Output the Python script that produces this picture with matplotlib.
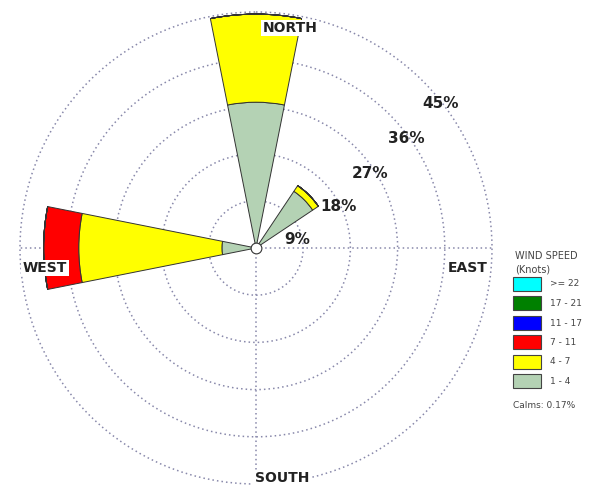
import numpy as np
import matplotlib.pyplot as plt
from matplotlib.patches import Rectangle

# wind rose data: percent of time per direction and speed bin
directions = ['N', 'NNE', 'NE', 'ENE', 'E', 'ESE', 'SE', 'SSE',
              'S', 'SSW', 'SW', 'WSW', 'W', 'WNW', 'NW', 'NNW']
dir_deg = np.arange(16) * 22.5

speed_bins = ['1 - 4', '4 - 7', '7 - 11', '11 - 17', '17 - 21', '>= 22']
bin_colors = ['#b4d2b4', '#ffff00', '#ff0000', '#0000ff', '#008000', '#00ffff']

spd_1_4 = [27.8, 0, 13.0, 0, 0, 0, 0, 0, 0, 0, 0, 0, 6.5, 0, 0, 0]
spd_4_7 = [16.8, 0, 1.3, 0, 0, 0, 0, 0, 0, 0, 0, 0, 27.3, 0, 0, 0]
spd_7_11 = [0, 0, 0, 0, 0, 0, 0, 0, 0, 0, 0, 0, 6.7, 0, 0, 0]
spd_11_17 = [0] * 16
spd_17_21 = [0] * 16
spd_22 = [0] * 16
series = [spd_1_4, spd_4_7, spd_7_11, spd_11_17, spd_17_21, spd_22]

rings = [9, 18, 27, 36, 45]
calms = 0.17

# 45% ring at 236 px from centre (256, 248); small margin so the ring shows
rmax = 45.4
rpx = 236 * rmax / 45
fig = plt.figure(figsize=(6.14, 4.9), dpi=100)
ax = fig.add_axes([(256 - rpx) / 614, (242 - rpx) / 490, 2 * rpx / 614, 2 * rpx / 490],
                  projection='polar')
ax.set_theta_zero_location('N')
ax.set_theta_direction(-1)

theta = np.deg2rad(dir_deg)
width = np.deg2rad(22.5)
bottom = np.zeros(16)
for vals, col in zip(series, bin_colors):
    vals = np.array(vals, dtype=float)
    ax.bar(theta, vals, width=width, bottom=bottom, color=col,
           edgecolor='#333333', linewidth=0.7, zorder=3)
    bottom += vals

ax.set_ylim(0, rmax)
ax.set_rgrids(rings, labels=[''] * len(rings))
ax.set_thetagrids([0, 90, 180, 270], labels=[''] * 4)
ax.grid(True, color='#8888aa', linestyle=(0, (1, 2)), linewidth=1.1)
ax.spines['polar'].set_visible(False)

# calm circle
ax.scatter([0], [0], s=60, color='white', edgecolor='#333333',
           linewidth=0.8, zorder=5)

# ring labels
ring_pos = [(79, 8.0), (63, 17.6), (57, 26.0), (54, 35.4), (52, 44.6)]
for r, (ang, rad) in zip(rings, ring_pos):
    ax.text(np.deg2rad(ang), rad, f'{r}%', ha='center', va='center',
            fontsize=11, fontweight='bold', color='#222222', zorder=6)

# compass labels
lbl = dict(fontsize=10, fontweight='bold', color='#222222',
           bbox=dict(facecolor='white', edgecolor='none', pad=1))
fig.text(290 / 614, 1 - 28 / 490, 'NORTH', ha='center', va='center', **lbl)
fig.text(45 / 614, 1 - 268 / 490, 'WEST', ha='center', va='center', **lbl)
fig.text(468 / 614, 1 - 268 / 490, 'EAST', ha='center', va='center', **lbl)
fig.text(282 / 614, 1 - 478 / 490, 'SOUTH', ha='center', va='center', **lbl)

# legend
fig.text(515 / 614, 1 - 256 / 490, 'WIND SPEED', fontsize=7, color='#444444', va='center')
fig.text(515 / 614, 1 - 270 / 490, '(Knots)', fontsize=7, color='#444444', va='center')
box_y = [284, 303, 323, 342, 362, 381]
for name, col, y in zip(speed_bins[::-1], bin_colors[::-1], box_y):
    fig.patches.append(Rectangle((513 / 614, 1 - (y + 7) / 490), 28 / 614, 14 / 490,
                                 transform=fig.transFigure, facecolor=col,
                                 edgecolor='#444444', linewidth=0.8))
    fig.text(550 / 614, 1 - y / 490, name, fontsize=6.5, color='#444444', va='center')
fig.text(513 / 614, 1 - 405 / 490, f'Calms: {calms}%', fontsize=6.5, color='#444444', va='center')

fig.savefig('out.png', dpi=100)
